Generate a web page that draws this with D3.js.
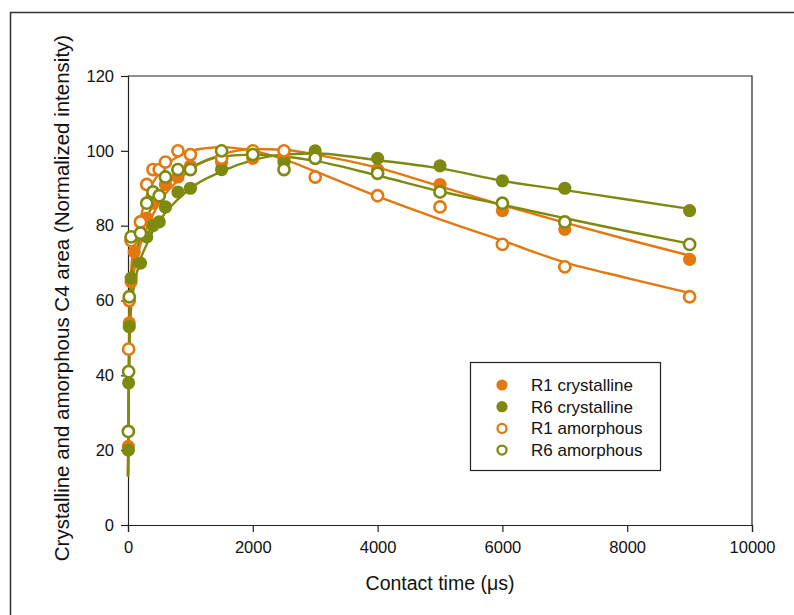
<!DOCTYPE html>
<html><head><meta charset="utf-8">
<script src="https://cdn.jsdelivr.net/npm/d3@7"></script>
<style>body{margin:0;background:#fff;} svg{display:block;} text{font-family:"Liberation Sans",Arial,sans-serif;}</style>
</head><body>
<svg id="c" width="794" height="615"></svg>
<script>
// ---- Data ----
const seriesNames = ["R1 crystalline", "R6 crystalline", "R1 amorphous", "R6 amorphous"];

const r1CrystX = [5, 20, 50, 100, 200, 300, 400, 500, 600, 800, 1000, 1500, 2000, 2500, 3000, 4000, 5000, 6000, 7000, 9000];
const r1CrystY = [21, 54, 65, 73, 81, 82, 86, 88, 91, 93, 96, 97, 98, 98, 98, 95, 91, 84, 79, 71];

const r6CrystX = [5, 10, 20, 50, 200, 300, 400, 500, 600, 800, 1000, 1500, 2000, 2500, 3000, 4000, 5000, 6000, 7000, 9000];
const r6CrystY = [20, 38, 53, 66, 70, 77, 80, 81, 85, 89, 90, 95, 99, 97, 100, 98, 96, 92, 90, 84];

const r1AmorX = [10, 20, 50, 200, 300, 400, 500, 600, 800, 1000, 1500, 2000, 2500, 3000, 4000, 5000, 6000, 7000, 9000];
const r1AmorY = [47, 60, 76, 81, 91, 95, 95, 97, 100, 99, 98, 100, 100, 93, 88, 85, 75, 69, 61];

const r6AmorX = [5, 10, 20, 50, 200, 300, 400, 500, 600, 800, 1000, 1500, 2000, 2500, 3000, 4000, 5000, 6000, 7000, 9000];
const r6AmorY = [25, 41, 61, 77, 78, 86, 89, 88, 93, 95, 95, 100, 99, 95, 98, 94, 89, 86, 81, 75];

// fitted curves
const fitX = [0, 5, 10, 20, 50, 100, 200, 300, 400, 500, 600, 800, 1000, 1500, 2000, 2500, 3000, 4000, 5000, 6000, 7000, 8000, 9000];
const r1CrystFit = [13, 22, 32, 46, 62, 68, 75, 79.5, 83, 86, 88.5, 92, 95, 99, 100.5, 100.3, 99, 95.5, 90.5, 85.5, 80.8, 76.3, 72];
const r6CrystFit = [13, 21, 30, 43, 58, 64, 71, 75, 78.5, 81, 83.5, 87, 90, 94.5, 97.5, 99, 99.3, 97.5, 95.3, 92, 89.5, 87, 84.5];
const r1AmorFit = [13, 25, 37, 52, 68, 75, 82, 88, 91.5, 94, 96, 98.5, 100, 101, 100, 97.7, 94.5, 87.8, 81.7, 76, 70.2, 66, 62];
const r6AmorFit = [13, 24, 35, 50, 66, 71, 77, 82, 85.5, 88, 90.5, 93.5, 95.5, 98.5, 99, 98.5, 97.3, 93.4, 89.2, 85.6, 82, 78.5, 75.2];

const xTicks = [0, 2000, 4000, 6000, 8000, 10000];
const yTicks = [0, 20, 40, 60, 80, 100, 120];

// ---- Styling ----
const ORANGE = "#E4780F";
const OLIVE = "#7E8A0F";
const series = [
  {name: seriesNames[0], xs: r1CrystX, ys: r1CrystY, fit: r1CrystFit, color: ORANGE, open: false},
  {name: seriesNames[1], xs: r6CrystX, ys: r6CrystY, fit: r6CrystFit, color: OLIVE, open: false},
  {name: seriesNames[2], xs: r1AmorX, ys: r1AmorY, fit: r1AmorFit, color: ORANGE, open: true},
  {name: seriesNames[3], xs: r6AmorX, ys: r6AmorY, fit: r6AmorFit, color: OLIVE, open: true}
];

const svg = d3.select("#c");
const L = 128, R = 752, T = 76, B = 525;
const x = d3.scaleLinear().domain([0, 10000]).range([L, R]);
const y = d3.scaleLinear().domain([0, 120]).range([B, T]);

// outer frame
svg.append("rect").attr("x", 10.5).attr("y", 12.5).attr("width", 900).attr("height", 900)
  .attr("fill", "none").attr("stroke", "#333").attr("stroke-width", 1.5);

// plot box (top/right)
svg.append("path").attr("d", `M${L},${T}H${R}V${B}`).attr("fill", "none").attr("stroke", "#222").attr("stroke-width", 1.2);

// axes
const gx = svg.append("g").attr("transform", `translate(0,${B})`)
  .call(d3.axisBottom(x).tickValues(xTicks).tickSize(7).tickPadding(9).tickFormat(d3.format("d")));
const gy = svg.append("g").attr("transform", `translate(${L},0)`)
  .call(d3.axisLeft(y).tickValues(yTicks).tickSize(7).tickPadding(7));
[gx, gy].forEach(g => {
  g.select(".domain").attr("stroke", "#222").attr("stroke-width", 1.2);
  g.selectAll(".tick line").attr("stroke", "#222").attr("stroke-width", 1.2);
  g.selectAll(".tick text").attr("font-size", 16.5).attr("fill", "#111").attr("font-family", "Liberation Sans, Arial, sans-serif");
});

// axis titles
svg.append("text").attr("x", (L + R) / 2).attr("y", 590).attr("text-anchor", "middle")
  .attr("font-size", 19.5).attr("fill", "#111").text("Contact time (μs)");
svg.append("text").attr("transform", `translate(69,${298}) rotate(-90)`).attr("text-anchor", "middle")
  .attr("font-size", 20.5).attr("fill", "#111").text("Crystalline and amorphous C4 area (Normalized intensity)");

// fit lines
const line = d3.line().x(d => x(d[0])).y(d => y(d[1])).curve(d3.curveMonotoneX);
series.forEach(s => {
  svg.append("path").datum(fitX.map((v, i) => [v, s.fit[i]]))
    .attr("d", line).attr("fill", "none").attr("stroke", s.color).attr("stroke-width", 2.4);
});

// points
series.forEach(s => {
  svg.append("g").selectAll("circle").data(s.xs.map((v, i) => [v, s.ys[i]])).join("circle")
    .attr("cx", d => x(d[0])).attr("cy", d => y(d[1])).attr("r", s.open ? 5.6 : 6.6)
    .attr("fill", s.open ? "#fff" : s.color)
    .attr("stroke", s.open ? s.color : "none").attr("stroke-width", s.open ? 2.6 : 0);
});

// legend
const lg = svg.append("g");
lg.append("rect").attr("x", 470.5).attr("y", 362.5).attr("width", 190).attr("height", 108)
  .attr("fill", "#fff").attr("stroke", "#222").attr("stroke-width", 1.2);
series.forEach((s, i) => {
  const yy = 385 + i * 21.7;
  lg.append("circle").attr("cx", 502).attr("cy", yy).attr("r", s.open ? 4.5 : 5.6)
    .attr("fill", s.open ? "#fff" : s.color)
    .attr("stroke", s.open ? s.color : "none").attr("stroke-width", s.open ? 2.3 : 0);
  lg.append("text").attr("x", 531).attr("y", yy + 6).attr("font-size", 17).attr("fill", "#111").text(s.name);
});
</script>
</body></html>
